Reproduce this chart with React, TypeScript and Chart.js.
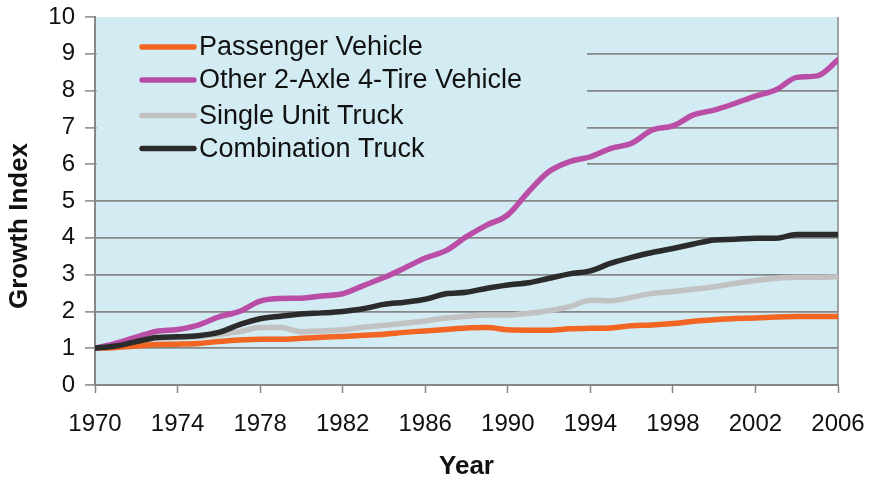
import React, { useEffect, useRef } from "react";
import { Chart, registerables } from "chart.js";

Chart.register(...registerables);

const years = [
  1970, 1971, 1972, 1973, 1974, 1975, 1976, 1977, 1978, 1979,
  1980, 1981, 1982, 1983, 1984, 1985, 1986, 1987, 1988, 1989,
  1990, 1991, 1992, 1993, 1994, 1995, 1996, 1997, 1998, 1999,
  2000, 2001, 2002, 2003, 2004, 2005, 2006,
];

const passengerVehicle = [
  1.0, 1.02, 1.06, 1.1, 1.11, 1.13, 1.18, 1.22, 1.24, 1.24,
  1.27, 1.3, 1.32, 1.35, 1.38, 1.43, 1.47, 1.51, 1.55, 1.56,
  1.5, 1.49, 1.49, 1.53, 1.54, 1.55, 1.61, 1.63, 1.67, 1.73,
  1.77, 1.81, 1.82, 1.85, 1.86, 1.86, 1.86,
];

const other2Axle = [
  1.0, 1.13, 1.3, 1.46, 1.51, 1.63, 1.85, 2.0, 2.28, 2.35,
  2.36, 2.42, 2.48, 2.7, 2.92, 3.18, 3.45, 3.65, 4.03, 4.35,
  4.62, 5.25, 5.8, 6.07, 6.2, 6.43, 6.57, 6.93, 7.04, 7.34,
  7.47, 7.65, 7.85, 8.02, 8.36, 8.4, 8.83,
];

const singleUnitTruck = [
  1.0, 1.05, 1.16, 1.27, 1.29, 1.31, 1.38, 1.45, 1.56, 1.56,
  1.45, 1.47, 1.5, 1.57, 1.62, 1.68, 1.74, 1.82, 1.87, 1.9,
  1.9, 1.95, 2.02, 2.13, 2.3, 2.29, 2.38, 2.49, 2.54, 2.6,
  2.67, 2.76, 2.84, 2.9, 2.93, 2.93, 2.94,
];

const combinationTruck = [
  1.0, 1.06, 1.18, 1.29, 1.31, 1.34, 1.43, 1.64, 1.8, 1.87,
  1.93, 1.96, 2.0, 2.07, 2.19, 2.25, 2.33, 2.48, 2.52, 2.63,
  2.72, 2.78, 2.9, 3.02, 3.1, 3.31, 3.47, 3.6, 3.71, 3.83,
  3.94, 3.96, 3.99, 3.99, 4.09, 4.09, 4.09,
];

const seriesLabels = [
  "Passenger Vehicle",
  "Other 2-Axle 4-Tire Vehicle",
  "Single Unit Truck",
  "Combination Truck",
];
const seriesColors = ["#F26522", "#BA4DA6", "#C2C2C2", "#2B2B2B"];
const seriesOrder = [2, 1, 3, 0];

const xTitle = "Year";
const yTitle = "Growth Index";

const FONT = "'Liberation Sans', Arial, Helvetica, sans-serif";
const PLOT_BG = "#D3EBF3";
const GRID = "#878787";

const bgPlugin = {
  id: "plotBg",
  beforeDraw(chart: any) {
    const { ctx, chartArea } = chart;
    ctx.save();
    ctx.fillStyle = PLOT_BG;
    ctx.fillRect(chartArea.left, chartArea.top, chartArea.right - chartArea.left, chartArea.bottom - chartArea.top);
    ctx.restore();
  },
};

const legendPlugin = {
  id: "boxLegend",
  beforeDatasetsDraw(chart: any) {
    const { ctx, chartArea } = chart;
    ctx.save();
    // legend box covers the grid lines behind it
    ctx.fillStyle = PLOT_BG;
    ctx.fillRect(chartArea.left + 1.5, chartArea.top, 492 - 1.5, 158);
    // right border of the plot
    ctx.strokeStyle = GRID;
    ctx.lineWidth = 1.5;
    ctx.beginPath();
    ctx.moveTo(chartArea.right, chartArea.top);
    ctx.lineTo(chartArea.right, chartArea.bottom);
    ctx.stroke();

    const rowY = [30, 63, 98.5, 131.5];
    chart.data.datasets.forEach((ds: any, i: number) => {
      const y = chartArea.top + rowY[i];
      ctx.strokeStyle = ds.borderColor;
      ctx.lineWidth = 5.5;
      ctx.lineCap = "round";
      ctx.beginPath();
      ctx.moveTo(chartArea.left + 47, y);
      ctx.lineTo(chartArea.left + 99, y);
      ctx.stroke();
      ctx.fillStyle = "#111";
      ctx.font = `27px ${FONT}`;
      ctx.textBaseline = "middle";
      ctx.textAlign = "left";
      ctx.fillText(ds.label, chartArea.left + 104, y + 1);
    });
    ctx.restore();
  },
  afterDraw(chart: any) {
    const { ctx } = chart;
    ctx.save();
    ctx.translate(20, 226);
    ctx.rotate(-Math.PI / 2);
    ctx.fillStyle = "#111";
    ctx.font = `bold 26px ${FONT}`;
    ctx.textAlign = "center";
    ctx.textBaseline = "middle";
    ctx.fillText(yTitle, 0, 0);
    ctx.restore();
  },
};

export default function App() {
  const canvasRef = useRef<HTMLCanvasElement | null>(null);

  useEffect(() => {
    const canvas = canvasRef.current;
    if (!canvas) return;
    const seriesValues = [passengerVehicle, other2Axle, singleUnitTruck, combinationTruck];
    const chart = new Chart(canvas, {
      type: "line",
      data: {
        datasets: seriesValues.map((vals, i) => ({
          label: seriesLabels[i],
          data: years.map((yr, j) => ({ x: yr, y: vals[j] })),
          borderColor: seriesColors[i],
          backgroundColor: seriesColors[i],
          borderWidth: 5.5,
          pointRadius: 0,
          cubicInterpolationMode: "monotone" as const,
          order: seriesOrder[i],
          borderCapStyle: "round" as const,
          borderJoinStyle: "round" as const,
        })),
      },
      options: {
        animation: false,
        responsive: false,
        maintainAspectRatio: false,
        layout: { padding: { top: 17, right: 38, left: 0, bottom: 0 } },
        plugins: {
          legend: { display: false },
          tooltip: { enabled: false },
        },
        scales: {
          x: {
            type: "linear",
            min: 1970,
            max: 2006,
            afterFit(s: any) {
              s.height = 97;
              s.paddingLeft = 0;
              s.paddingRight = 0;
            },
            ticks: {
              stepSize: 4,
              autoSkip: false,
              maxRotation: 0,
              padding: 17,
              color: "#111",
              font: { family: FONT, size: 24 },
              callback: (v: any) => String(v),
            },
            grid: {
              drawOnChartArea: false,
              drawTicks: true,
              tickLength: 8,
              tickColor: GRID,
              tickWidth: 1.5,
            },
            border: { color: GRID, width: 2 },
            title: {
              display: true,
              text: xTitle,
              color: "#111",
              font: { family: FONT, size: 26, weight: "bold" },
              padding: { top: 0, bottom: 0 },
            },
          },
          y: {
            min: 0,
            max: 10,
            afterFit(s: any) {
              s.width = 95;
              s.paddingTop = 0;
              s.paddingBottom = 0;
            },
            ticks: {
              stepSize: 1,
              padding: 10,
              color: "#111",
              font: { family: FONT, size: 24 },
            },
            grid: {
              color: (c: any) => (c.tick && c.tick.value === 10 ? "rgba(0,0,0,0)" : GRID),
              lineWidth: 1.8,
              tickLength: 10,
              tickColor: GRID,
              tickWidth: 1.5,
            },
            border: { color: GRID, width: 2 },
            title: { display: false, text: yTitle },
          },
        },
      },
      plugins: [bgPlugin, legendPlugin],
    });
    return () => chart.destroy();
  }, []);

  return (
    <div style={{ position: "fixed", left: 0, top: 0, width: 876, height: 482, background: "#fff" }}>
      <canvas ref={canvasRef} width={876} height={482} />
    </div>
  );
}
